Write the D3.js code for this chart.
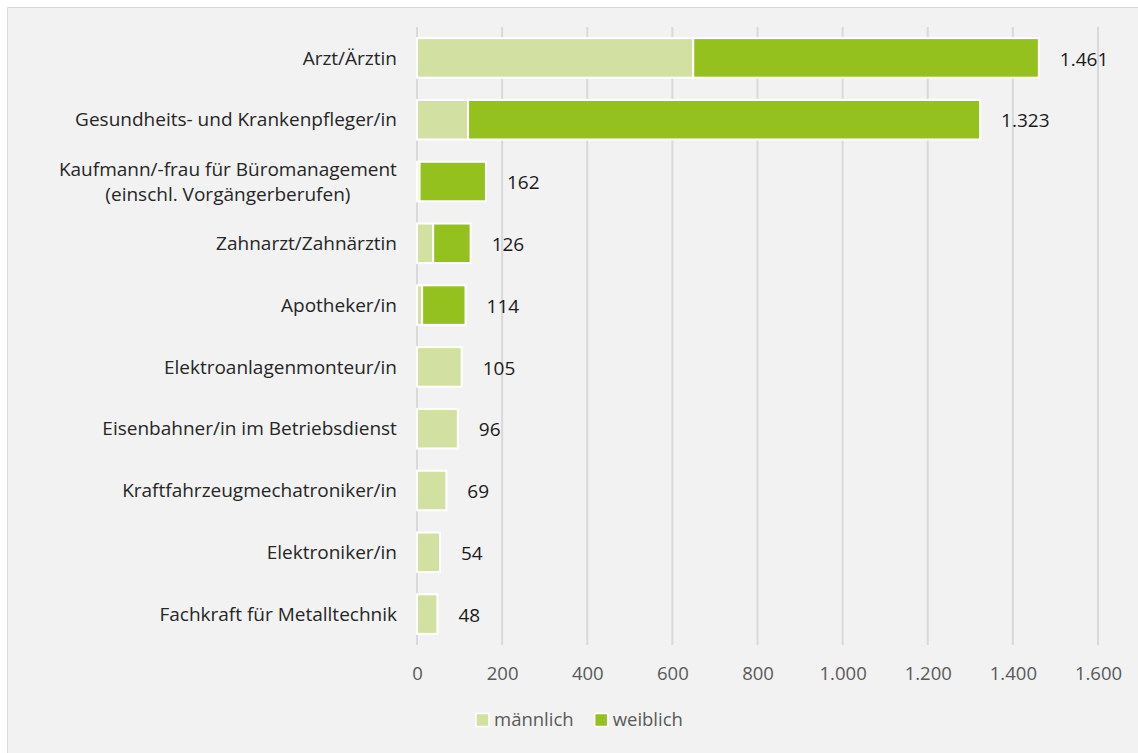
<!DOCTYPE html>
<html>
<head>
<meta charset="utf-8">
<script src="https://cdn.jsdelivr.net/npm/d3@7"></script>
<style>
  html, body { margin: 0; padding: 0; background: #ffffff; }
  svg { display: block; font-family: "Open Sans", Lato, sans-serif; }
</style>
</head>
<body>
<svg id="chart" width="1138" height="753"></svg>
<script>
// Occupations (label lines) and counts by sex
const categories = [
  ["Arzt/Ärztin"],
  ["Gesundheits- und Krankenpfleger/in"],
  ["Kaufmann/-frau für Büromanagement", "(einschl. Vorgängerberufen)"],
  ["Zahnarzt/Zahnärztin"],
  ["Apotheker/in"],
  ["Elektroanlagenmonteur/in"],
  ["Eisenbahner/in im Betriebsdienst"],
  ["Kraftfahrzeugmechatroniker/in"],
  ["Elektroniker/in"],
  ["Fachkraft für Metalltechnik"]
];
const maennlich = [649, 120, 6, 38, 12, 105, 96, 69, 54, 48];
const weiblich  = [812, 1203, 156, 88, 102, 0, 0, 0, 0, 0];
const totals    = [1461, 1323, 162, 126, 114, 105, 96, 69, 54, 48];
const xTicks    = [0, 200, 400, 600, 800, 1000, 1200, 1400, 1600];
const seriesNames = ["männlich", "weiblich"];
const seriesColors = ["#d2e1a1", "#95c11f"];

const FONT = "'Open Sans', Lato, sans-serif";
const svg = d3.select("#chart");
const W = 1138, H = 753;

// panel background with thin frame on the left and top
svg.append("rect")
  .attr("x", 7.5).attr("y", 7.5)
  .attr("width", W + 10).attr("height", H + 10)
  .attr("fill", "#f2f2f2")
  .attr("stroke", "#d9d9d9")
  .attr("stroke-width", 1);

const margin = { left: 417, top: 27, bottom: 108 };
const x = d3.scaleLinear().domain([0, 1600]).range([margin.left, 1098]);
const y = d3.scaleBand()
  .domain(d3.range(categories.length))
  .range([margin.top, H - margin.bottom])
  .paddingInner(0.36)
  .paddingOuter(0.18);

// vertical gridlines
const gridBottom = H - margin.bottom;
svg.append("g").selectAll("line")
  .data(xTicks)
  .join("line")
  .attr("x1", d => x(d)).attr("x2", d => x(d))
  .attr("y1", margin.top).attr("y2", gridBottom)
  .attr("stroke", "#d9d9d9")
  .attr("stroke-width", 2);

// x axis tick labels
const fmt = d3.formatLocale({ decimal: ",", thousands: ".", grouping: [3], currency: ["", "€"] }).format(",d");
const xAxis = d3.axisBottom(x).tickValues(xTicks).tickSize(0).tickPadding(0).tickFormat(fmt);
const gx = svg.append("g")
  .attr("transform", `translate(0,${gridBottom})`)
  .call(xAxis);
gx.select(".domain").remove();
gx.selectAll("text")
  .attr("y", 29)
  .attr("dy", "0.35em")
  .attr("fill", "#595959")
  .attr("font-size", 18.5)
  .attr("font-family", FONT);

// stacked bars
const rows = categories.map((c, i) => ({ i, m: maennlich[i], w: weiblich[i], t: totals[i] }));
const stack = d3.stack().keys(["m", "w"])(rows);
svg.append("g").selectAll("g")
  .data(stack)
  .join("g")
  .attr("fill", (d, k) => seriesColors[k])
  .selectAll("rect")
  .data(d => d.filter(s => s[1] - s[0] > 0))
  .join("rect")
  .attr("x", d => x(d[0]))
  .attr("y", d => y(d.data.i))
  .attr("width", d => x(d[1]) - x(d[0]))
  .attr("height", y.bandwidth())
  .attr("stroke", "#ffffff")
  .attr("stroke-width", 2);

// value labels right of each bar
svg.append("g").selectAll("text")
  .data(rows)
  .join("text")
  .attr("x", d => x(d.m + d.w) + 21)
  .attr("y", d => y(d.i) + y.bandwidth() / 2 + 1)
  .attr("dy", "0.35em")
  .attr("fill", "#1a1a1a")
  .attr("font-size", 19)
  .text(d => fmt(d.t));

// category labels (centered lines, right-aligned block)
const catG = svg.append("g");
categories.forEach((lines, i) => {
  const cy = y(i) + y.bandwidth() / 2;
  const lh = 25;
  const t = catG.append("text")
    .attr("fill", "#262626")
    .attr("font-size", 19)
    .attr("text-anchor", "middle");
  lines.forEach((ln, j) => {
    t.append("tspan")
      .attr("x", 0)
      .attr("y", cy + (j - (lines.length - 1) / 2) * lh)
      .attr("dy", "0.35em")
      .text(ln);
  });
  // align the widest line's right edge at the axis gap
  const bw = t.node().getBBox().width;
  t.attr("transform", `translate(${397 - bw / 2},0)`);
});

// legend
const legend = svg.append("g").attr("transform", "translate(476,720)");
let lx = 0;
seriesNames.forEach((name, k) => {
  const g = legend.append("g").attr("transform", `translate(${lx},0)`);
  g.append("rect")
    .attr("x", 0).attr("y", -6.5)
    .attr("width", 13).attr("height", 13)
    .attr("fill", seriesColors[k])
    .attr("stroke", "#ffffff").attr("stroke-width", 1.5);
  const tx = g.append("text")
    .attr("x", 18).attr("y", 0).attr("dy", "0.35em")
    .attr("fill", "#595959")
    .attr("font-size", 18.5)
    .text(name);
  lx += 18 + tx.node().getComputedTextLength() + 21;
});
</script>
</body>
</html>
